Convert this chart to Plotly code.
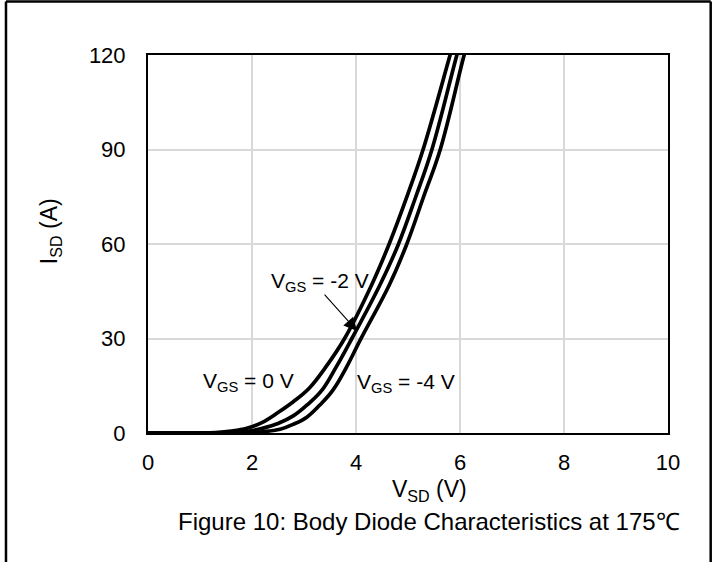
import plotly.graph_objects as go

# Data (V_SD in V, I_SD in A)
v_gs0 = [0, 1.0, 1.3, 1.6, 1.9, 2.2, 2.5, 2.8, 3.1, 3.4, 3.78, 4.3, 4.63, 5.0, 5.29, 5.81, 5.95]
i_gs0 = [0, 0, 0.15, 0.6, 1.5, 3.4, 6.5, 10, 14.2, 20.5, 30, 47, 59.7, 76, 90, 120, 128]

v_gs2 = [0, 1.3, 1.6, 1.9, 2.2, 2.5, 2.8, 3.06, 3.35, 3.62, 3.92, 4.46, 4.81, 5.15, 5.46, 5.94, 6.08]
i_gs2 = [0, 0, 0.15, 0.5, 1.5, 3.0, 5.5, 8.9, 13.7, 21, 30, 47, 59.7, 75, 90, 120, 128]

v_gs4 = [0, 1.6, 1.9, 2.2, 2.54, 2.8, 3.06, 3.3, 3.56, 3.82, 4.08, 4.64, 4.97, 5.3, 5.62, 6.08, 6.22]
i_gs4 = [0, 0, 0.1, 0.4, 1.2, 2.8, 5.1, 8.8, 13.7, 21, 29.5, 47, 59.7, 75, 90, 120, 128]

x_ticks = [0, 2, 4, 6, 8, 10]
y_ticks = [0, 30, 60, 90, 120]

FONT = "Liberation Sans, Arial, sans-serif"

fig = go.Figure()
for vx, iy in [(v_gs0, i_gs0), (v_gs2, i_gs2), (v_gs4, i_gs4)]:
    fig.add_trace(go.Scatter(x=vx, y=iy, mode="lines",
                             line=dict(color="black", width=3.7, shape="spline", smoothing=1.1),
                             hoverinfo="skip"))

fig.update_layout(
    width=715, height=562,
    margin=dict(l=148, r=47, t=55, b=129),
    paper_bgcolor="white", plot_bgcolor="white",
    showlegend=False,
    font=dict(family=FONT, color="black", size=22),
)
fig.update_xaxes(range=[0, 10], tickvals=x_ticks, ticktext=[str(t) for t in x_ticks],
                 showline=True, linecolor="black", linewidth=2, mirror=True,
                 showgrid=True, gridcolor="#d9d9d9", gridwidth=1.5, zeroline=False,
                 ticks="", ticklabelstandoff=9, tickfont=dict(size=22, family=FONT))
fig.update_yaxes(range=[0, 120], tickvals=y_ticks, ticktext=[str(t) for t in y_ticks],
                 showline=True, linecolor="black", linewidth=2, mirror=True,
                 showgrid=True, gridcolor="#d9d9d9", gridwidth=1.5, zeroline=False,
                 ticks="", ticklabelstandoff=16, tickfont=dict(size=22, family=FONT))

ann = []
# curve labels
ann.append(dict(x=1.94, y=16.2, xref="x", yref="y", text="V<sub>GS</sub> = 0 V",
                showarrow=False, xanchor="center", yanchor="middle", font=dict(size=21, family=FONT)))
ann.append(dict(x=3.31, y=48.0, xref="x", yref="y", text="V<sub>GS</sub> = -2 V",
                showarrow=False, xanchor="center", yanchor="middle", font=dict(size=21, family=FONT)))
ann.append(dict(x=4.96, y=15.9, xref="x", yref="y", text="V<sub>GS</sub> = -4 V",
                showarrow=False, xanchor="center", yanchor="middle", font=dict(size=21, family=FONT)))
# arrow for -2 V
ann.append(dict(x=4.02, y=32.4, ax=3.37, ay=44.4, xref="x", yref="y", axref="x", ayref="y",
                text="", showarrow=True, arrowhead=2, arrowsize=2.4, arrowwidth=1.1,
                arrowcolor="black"))
# axis titles
ann.append(dict(x=0.542, y=-0.151, xref="paper", yref="paper", text="V<sub>SD</sub> (V)",
                showarrow=False, xanchor="center", yanchor="middle", font=dict(size=23, family=FONT)))
ann.append(dict(x=-0.1885, y=0.534, xref="paper", yref="paper", text="I<sub>SD</sub> (A)",
                textangle=-90, showarrow=False, xanchor="center", yanchor="middle",
                font=dict(size=23, family=FONT)))
# figure caption
ann.append(dict(x=0.54, y=-0.235, xref="paper", yref="paper",
                text="Figure 10: Body Diode Characteristics at 175℃",
                showarrow=False, xanchor="center", yanchor="middle", font=dict(size=24, family=FONT)))
fig.update_layout(annotations=ann)

# outer frame lines
frame = dict(color="black", width=2.5)
fig.add_shape(type="line", xref="paper", yref="paper", x0=-0.2731, x1=-0.2731, y0=-0.36, y1=1.1415, line=frame)
fig.add_shape(type="line", xref="paper", yref="paper", x0=1.0821, x1=1.0821, y0=-0.36, y1=1.1415, line=frame)
fig.add_shape(type="line", xref="paper", yref="paper", x0=-0.2731, x1=1.0821, y0=1.1415, y1=1.1415, line=frame)

fig.write_html("out.html")
